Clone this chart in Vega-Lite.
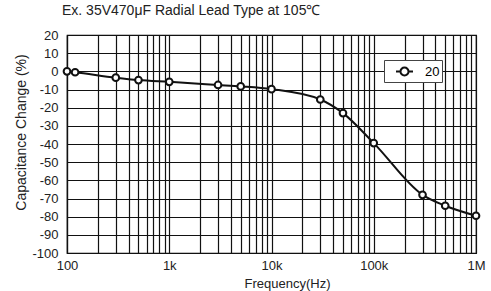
{
  "$schema": "https://vega.github.io/schema/vega-lite/v6.json",
  "autosize": {"type": "none"},
  "padding": {"left": 67, "top": 35, "right": 15, "bottom": 38},
  "width": 409,
  "height": 218,
  "background": "white",
  "config": {
    "font": "Liberation Sans",
    "view": {"stroke": "black", "strokeWidth": 1.2},
    "axis": {"gridColor": "#111", "gridWidth": 1.2, "gridOpacity": 1, "domainColor": "#111", "domainWidth": 1.2, "ticks": false, "labelFontSize": 13, "labelColor": "#222", "titleFontSize": 13, "titleFontWeight": "normal", "titleColor": "#222", "labelFont": "Liberation Sans", "titleFont": "Liberation Sans", "labelFlush": false}
  },
  "title": {"text": "Ex. 35V470μF Radial Lead Type at 105℃", "anchor": "start", "frame": "group", "dx": -5, "offset": 11, "fontSize": 14, "fontWeight": "normal", "color": "#222", "font": "Liberation Sans"},
  "data": {"values": [
    {"freq": 100, "cap": 0, "series": "20"},
    {"freq": 120, "cap": -0.5, "series": "20"},
    {"freq": 300, "cap": -3.5, "series": "20"},
    {"freq": 500, "cap": -4.8, "series": "20"},
    {"freq": 1000, "cap": -5.8, "series": "20"},
    {"freq": 3000, "cap": -7.5, "series": "20"},
    {"freq": 5000, "cap": -8.3, "series": "20"},
    {"freq": 10000, "cap": -9.8, "series": "20"},
    {"freq": 30000, "cap": -15.5, "series": "20"},
    {"freq": 50000, "cap": -23, "series": "20"},
    {"freq": 100000, "cap": -39.5, "series": "20"},
    {"freq": 300000, "cap": -68, "series": "20"},
    {"freq": 500000, "cap": -74, "series": "20"},
    {"freq": 1000000, "cap": -79.5, "series": "20"}
  ]},
  "encoding": {
    "x": {"field": "freq", "type": "quantitative",
      "scale": {"type": "log", "domain": [100, 1000000], "nice": false},
      "axis": {"title": "Frequency(Hz)", "grid": true, "labelOverlap": false, "labelFlush": false, "labelPadding": 6, "titlePadding": 5, "titleX": 220,
        "values": [100,200,300,400,500,600,700,800,900,1000,2000,3000,4000,5000,6000,7000,8000,9000,10000,20000,30000,40000,50000,60000,70000,80000,90000,100000,200000,300000,400000,500000,600000,700000,800000,900000,1000000],
        "labelExpr": "datum.value == 100 ? '100' : datum.value == 1000 ? '1k' : datum.value == 10000 ? '10k' : datum.value == 100000 ? '100k' : datum.value == 1000000 ? '1M' : ''"}},
    "y": {"field": "cap", "type": "quantitative",
      "scale": {"domain": [-100, 20], "nice": false},
      "axis": {"title": "Capacitance Change (%)", "grid": true, "values": [-100,-90,-80,-70,-60,-50,-40,-30,-20,-10,0,10,20], "labelPadding": 9, "titlePadding": 3, "titleY": 97, "titleFontSize": 14,
        "labelExpr": "'' + datum.value"}}
  },
  "layer": [
    {"mark": {"type": "line", "interpolate": "monotone", "strokeWidth": 2},
     "encoding": {"stroke": {"field": "series", "type": "nominal", "scale": {"range": ["#111"]},
       "legend": {"title": null, "orient": "none", "legendX": 317, "legendY": 25, "fillColor": "white", "strokeColor": "#444", "padding": 2,
         "symbolType": "M-1,0L-0.47,0M0.47,0L1,0M-0.47,0A0.47,0.47,0,1,0,0.47,0A0.47,0.47,0,1,0,-0.47,0Z",
         "symbolSize": 289, "symbolStrokeWidth": 2, "symbolFillColor": "white", "symbolStrokeColor": "#111", "symbolOffset": 9, "labelOffset": 11, "labelFontSize": 13,
         "labelExpr": "datum.label + '\u00a0\u00a0\u00a0\u00a0\u00a0\u00a0\u00a0'"}}}},
    {"mark": {"type": "point", "shape": "circle", "filled": true, "fill": "white", "stroke": "#111", "strokeWidth": 2, "size": 45, "opacity": 1}}
  ]
}
